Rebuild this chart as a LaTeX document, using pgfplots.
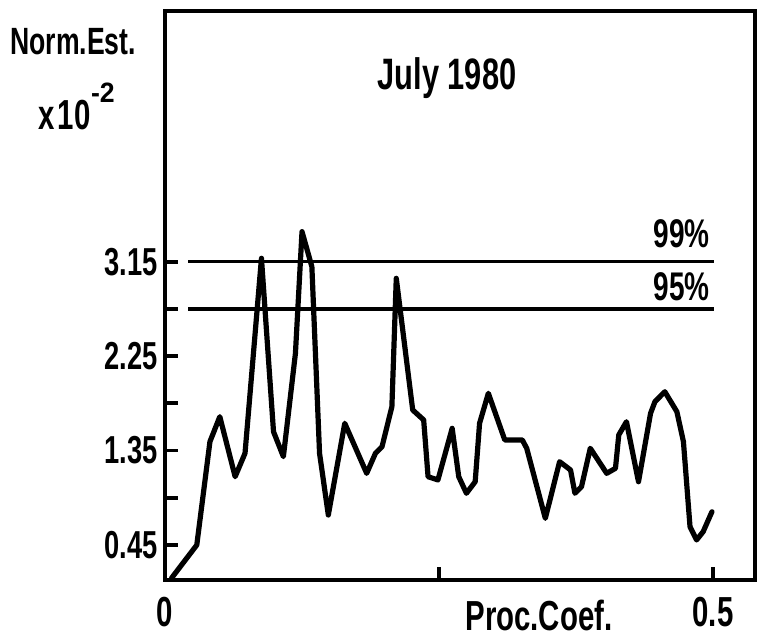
\documentclass[border=0pt]{standalone}
\usepackage{pgfplots}
\pgfplotsset{compat=1.18}
\usepackage{fontspec}
\setmainfont{Liberation Sans}[FakeStretch=0.7]
\newfontfamily\supfont{Liberation Sans}[FakeStretch=0.95]
\begin{document}
\begin{tikzpicture}[x=1pt,y=1pt]
\useasboundingbox (0,0) rectangle (379.5,319);
\begin{axis}[
  at={(82.5pt,29pt)}, anchor=south west,
  scale only axis, width=295pt, height=284.5pt,
  xmin=0, xmax=0.5383, ymin=0.1163, ymax=5.540,
  axis line style={line width=1.9pt},
  tick align=inside, xtick pos=bottom, ytick pos=left,
  major tick length=6.5pt,
  major tick style={line width=1.9pt, black},
  xtick={0,0.25,0.5}, xticklabels={0,,0.5},
  ytick={0.45,0.9,1.35,1.8,2.25,2.7,3.15},
  yticklabels={0.45,,1.35,,2.25,,3.15},
  yticklabel style={font=\bfseries\fontsize{19.5}{19.5}\selectfont},
  xticklabel style={font=\bfseries\fontsize{21}{21}\selectfont, yshift=-5pt},
  clip=false,
]
\addplot[line width=1.6pt] coordinates {(0.021,3.15) (0.501,3.15)};
\addplot[line width=1.6pt] coordinates {(0.021,2.7) (0.501,2.7)};
\addplot[line width=2.6pt, line join=round, line cap=round] coordinates {
(0.006,0.135) (0.029,0.450) (0.041,1.435) (0.050,1.673) (0.064,1.101)
(0.073,1.324) (0.088,3.183) (0.099,1.530) (0.108,1.292) (0.119,2.277)
(0.125,3.437) (0.134,3.103) (0.141,1.324) (0.149,0.736) (0.164,1.610)
(0.184,1.133) (0.192,1.324) (0.198,1.387) (0.207,1.768) (0.211,2.992)
(0.226,1.737) (0.236,1.642) (0.240,1.101) (0.249,1.070) (0.262,1.562)
(0.268,1.101) (0.275,0.943) (0.283,1.053) (0.287,1.610) (0.295,1.896)
(0.310,1.451) (0.326,1.451) (0.330,1.372) (0.347,0.704) (0.360,1.244)
(0.370,1.165) (0.374,0.943) (0.380,1.006) (0.388,1.372) (0.403,1.133)
(0.411,1.181) (0.414,1.499) (0.421,1.625) (0.432,1.053) (0.443,1.705)
(0.447,1.816) (0.456,1.911) (0.467,1.721) (0.473,1.435) (0.479,0.624)
(0.485,0.498) (0.491,0.577) (0.499,0.767)};
\end{axis}
\node[anchor=base west, inner sep=0pt, font=\bfseries\fontsize{19}{19}\selectfont] at (5,291.5) {Norm.Est.};
\node[anchor=base west, inner sep=0pt, font=\bfseries\fontsize{21}{21}\selectfont] at (19,254) {x\kern1.5pt10\kern0.3pt\raisebox{13.5pt}{\supfont\bfseries\fontsize{14}{14}\selectfont -2}};
\node[anchor=base, inner sep=0pt, font=\bfseries\fontsize{22}{22}\selectfont] at (223.5,274) {July 1980};
\node[anchor=base east, inner sep=0pt, font=\bfseries\fontsize{20}{20}\selectfont] at (355,195.5) {99\%};
\node[anchor=base east, inner sep=0pt, font=\bfseries\fontsize{20}{20}\selectfont] at (355,169) {95\%};
\node[anchor=base west, inner sep=0pt, font=\bfseries\fontsize{21}{21}\selectfont] at (232.5,4) {Proc.Coef.};
\end{tikzpicture}
\end{document}
